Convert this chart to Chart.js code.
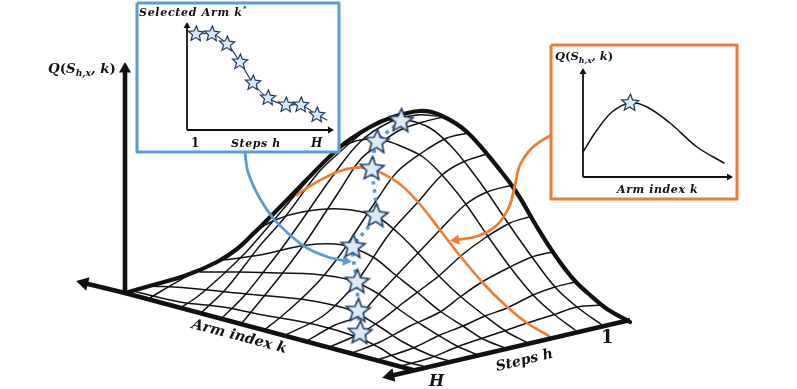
<!DOCTYPE html>
<html>
<head>
<meta charset="utf-8">
<style>html,body{margin:0;padding:0;background:#fff}canvas{display:block}</style>
<script src="https://cdn.jsdelivr.net/npm/chart.js"></script>
</head>
<body>
<canvas id="surface" width="797" height="389"></canvas>
<script>
// surface silhouette and base edges
const outline = [[125,293],[153,285],[187,275],[217,262],[237,249],[253,234],[287,200],[340,147],[370,127],[393,117],[420,111],[440,115],[467,132],[500,170],[517,193],[537,227],[557,258],[575,281],[590,295],[607,309],[630,322]];
const armAxis = [[413,370],[125,293],[84,283]];
const stepAxis = [[630,320],[390,376]];
const valueAxis = [[125,293],[125,70]];

// grid lines running from the left silhouette down to the steps edge
const armLines = [
  [[390,120],[407,120],[430,128],[450,145],[467,165],[487,192],[510,226],[532,257],[555,287],[577,307],[602,325]],
  [[340,147],[360,140],[383,140],[403,147],[423,157],[442,175],[465,203],[487,235],[510,267],[533,295],[555,315],[575,330]],
  [[252,233],[275,220],[302,212],[340,209],[375,216],[397,232],[418,253],[440,277],[460,296],[485,316],[507,332],[526,342]],
  [[223,260],[260,255],[307,245],[343,245],[373,257],[393,273],[417,292],[440,311],[463,326],[483,339],[505,348]],
  [[200,272],[237,272],[280,273],[313,274],[350,280],[377,293],[397,308],[425,327],[455,345],[478,355]],
  [[150,286],[187,288],[237,293],[280,297],[313,301],[350,310],[377,325],[403,342],[430,355],[453,362]],
  [[133,291],[180,302],[223,307],[263,315],[317,325],[357,337],[380,348],[400,360],[423,366]]
];
const crestLine = [[297,195],[310,186],[340,171],[367,168],[397,182],[418,202],[440,230],[461,257],[483,283],[505,305],[527,323],[549,336]];

// grid lines running from the arm edge up to the right silhouette
const stepLines = [
  [[150,298],[163,290],[187,276]],
  [[180,308],[197,297],[217,280],[233,265],[248,250],[268,227],[302,187],[335,150],[348,140]],
  [[202,312],[225,290],[245,265],[258,248],[285,217],[318,173],[342,150],[362,133]],
  [[222,318],[245,295],[265,270],[282,248],[302,220],[332,177],[360,142],[390,122],[417,115],[437,116]],
  [[242,323],[265,295],[285,270],[305,243],[325,213],[340,190],[360,160],[378,145],[400,130],[423,122],[443,117]],
  [[263,331],[282,316],[300,300],[320,280],[340,255],[360,225],[378,198],[397,172],[423,152],[447,138],[468,133]],
  [[283,336],[323,316],[352,288],[365,270],[390,233],[418,202],[442,175],[463,162],[487,154]],
  [[305,342],[335,325],[358,316],[378,295],[397,275],[418,253],[440,230],[465,205],[487,192],[513,185]],
  [[327,348],[357,335],[380,321],[403,303],[427,285],[440,275],[462,255],[485,238],[510,223],[529,217]],
  [[352,353],[380,342],[410,326],[440,312],[460,297],[482,282],[510,267],[532,257],[552,252]],
  [[377,360],[413,348],[440,335],[463,326],[485,316],[507,308],[533,295],[555,287],[575,282]],
  [[397,367],[430,358],[457,347],[483,338],[507,330],[527,323],[553,315],[577,307],[603,305]]
];

// selected arm per step, on the surface
const selectedStars = [[401,121],[377,142],[372,169],[376,216],[353,247],[357,282],[358,311],[360,333]];

// callout curves
const blueCallout = [[245,153],[248,172],[258,195],[273,218],[290,235],[307,248],[328,257],[346,261]];
const orangeCallout = [[551,135],[533,147],[520,165],[515,185],[509,207],[497,225],[478,236],[456,240]];

// inset frames
const blueBox = [[137,3],[339,3],[339,152],[137,152],[137,3]];
const orangeBox = [[551,45],[737,45],[737,199],[551,199],[551,45]];

// left inset: selected arm over steps
const insetStepAxisY = [[187,130],[187,28]];
const insetStepAxisX = [[187,130],[329,130]];
const insetArmLine = [[189,32],[196,34],[212,34],[227,44],[240,62],[253,83],[268,98],[286,105],[301,105],[317,115],[327,120]];
const insetArmStars = [[196,34],[212,34],[227,44],[240,62],[253,83],[268,98],[286,105],[301,105],[317,115]];

// right inset: value over arm index
const insetArmAxisY = [[583,177],[583,73]];
const insetArmAxisX = [[583,177],[728,177]];
const insetValueLine = [[583,152],[597,130],[612,112],[630,103],[647,107],[670,123],[697,147],[724,163]];
const insetValueStar = [[630,103]];

const BLACK = '#111111', BLUE = '#5b9bd5', ORANGE = '#ed7d31', NAVY = '#1f3a5f';

function pts(list) { return list.map(p => ({x: p[0], y: p[1]})); }

function curve(list, color, width, extra) {
  return Object.assign({data: pts(list), showLine: true, borderColor: color, borderWidth: width,
    tension: 0.35, pointRadius: 0, fill: false, borderCapStyle: 'round', borderJoinStyle: 'round', clip: false}, extra || {});
}

function straight(list, color, width, extra) {
  return curve(list, color, width, Object.assign({tension: 0, borderCapStyle: 'butt'}, extra || {}));
}

function head(x, y, rotation, radius, color) {
  return {data: [{x: x, y: y}], showLine: false, pointStyle: 'triangle', pointRadius: radius,
    pointRotation: rotation, pointBackgroundColor: color, pointBorderColor: color, pointBorderWidth: 0};
}

// chart.js has no filled five point star, so hand it a small canvas as the point style
function starImage(r, tilt) {
  const c = document.createElement('canvas');
  const s = Math.ceil(r * 2 + 4);
  c.width = s; c.height = s;
  const g = c.getContext('2d');
  g.beginPath();
  for (let i = 0; i < 10; i++) {
    const rad = i % 2 ? r * 0.45 : r;
    const a = -Math.PI / 2 + tilt + i * Math.PI / 5;
    g.lineTo(s / 2 + rad * Math.cos(a), s / 2 + rad * Math.sin(a));
  }
  g.closePath();
  g.fillStyle = '#dce9f7';
  g.strokeStyle = NAVY;
  g.lineWidth = r > 9 ? 1.6 : 1.2;
  g.lineJoin = 'miter';
  g.fill();
  g.stroke();
  return c;
}

function stars(list, r) {
  return {data: pts(list), showLine: false, pointStyle: starImage(r, 0.05), pointRadius: r};
}

const layers = [];
stepLines.forEach(l => layers.push(curve(l, BLACK, 1.5)));
armLines.forEach(l => layers.push(curve(l, BLACK, 1.5)));
layers.push(curve(crestLine, ORANGE, 2.6));
layers.push(curve(outline, BLACK, 4.2));
layers.push(straight(armAxis, BLACK, 4.4));
layers.push(head(84, 283, 284, 8, BLACK));
layers.push(straight(stepAxis, BLACK, 4.4));
layers.push(head(390, 376, 257, 8, BLACK));
layers.push(straight(valueAxis, BLACK, 4.6));
layers.push(head(125, 69, 0, 7, BLACK));
layers.push(curve(blueCallout, BLUE, 2.8));
layers.push(head(346, 261, 98, 6, BLUE));
layers.push(curve(orangeCallout, ORANGE, 2.8));
layers.push(head(456, 240, 263, 6, ORANGE));
layers.push(curve(selectedStars, BLUE, 3.6, {borderDash: [3.5, 4.5], borderCapStyle: 'butt', tension: 0.2}));
layers.push(stars(selectedStars, 12.5));
layers.push(straight(blueBox, BLUE, 3, {fill: 'shape', backgroundColor: '#ffffff'}));
layers.push(straight(orangeBox, ORANGE, 3, {fill: 'shape', backgroundColor: '#ffffff'}));
layers.push(straight(insetStepAxisY, BLACK, 1.8));
layers.push(head(187, 26, 0, 4, BLACK));
layers.push(straight(insetStepAxisX, BLACK, 1.8));
layers.push(head(330, 130, 90, 4, BLACK));
layers.push(curve(insetArmLine, NAVY, 1.1));
layers.push(stars(insetArmStars, 8));
layers.push(straight(insetArmAxisY, BLACK, 1.8));
layers.push(head(583, 72, 0, 4, BLACK));
layers.push(straight(insetArmAxisX, BLACK, 1.8));
layers.push(head(729, 177, 90, 4, BLACK));
layers.push(curve(insetValueLine, BLACK, 1.5));
layers.push(stars(insetValueStar, 9));
layers.forEach((d, i) => { d.order = -i; });

const SERIF = '"DejaVu Serif"';

function label(ctx, text, x, y, size, angle, spacing, upright) {
  ctx.save();
  ctx.translate(x, y);
  ctx.rotate((angle || 0) * Math.PI / 180);
  ctx.font = (upright ? 'bold ' : 'italic bold ') + size + 'px ' + SERIF;
  ctx.letterSpacing = (spacing || 0) + 'px';
  ctx.fillStyle = '#111';
  ctx.textBaseline = 'alphabetic';
  ctx.fillText(text, 0, 0);
  ctx.restore();
}

function valueLabel(ctx, x, y, size, spacing) {
  const runs = [['Q', 0, 1], ['(', 0, 0], ['S', 0, 1], ['h,x', 1, 1], [',', 0, 1], [' k', 0, 1], [')', 0, 0]];
  ctx.save();
  let cx = x;
  runs.forEach(r => {
    const s = r[1] ? size * 0.68 : size;
    ctx.font = (r[2] ? 'italic bold ' : 'bold ') + s + 'px ' + SERIF;
    ctx.letterSpacing = spacing + 'px';
    ctx.fillStyle = '#111';
    ctx.fillText(r[0], cx, y + (r[1] ? size * 0.22 : 0));
    cx += ctx.measureText(r[0]).width;
  });
  ctx.restore();
}

const textPlugin = {
  id: 'diagramText',
  afterDatasetsDraw(chart) {
    const ctx = chart.ctx;
    valueLabel(ctx, 48, 73, 13.4, 0);
    label(ctx, 'Arm index k', 191, 328, 14.4, 14.8, 0);
    label(ctx, 'Steps h', 497, 371, 14, -13.5, 0);
    label(ctx, 'H', 429, 386, 16);
    label(ctx, '1', 601, 343, 18, 0, 0, true);
    label(ctx, 'Selected Arm k', 139, 16, 11, 0, 0.7);
    label(ctx, '*', 243, 11, 7);
    label(ctx, '1', 191, 147, 12, 0, 0, true);
    label(ctx, 'Steps h', 231, 147, 11, 0, 0.6);
    label(ctx, 'H', 311, 147, 12);
    valueLabel(ctx, 555, 60, 11.5, 0);
    label(ctx, 'Arm index k', 617, 193, 11, 0, 0.6);
  }
};

new Chart(document.getElementById('surface'), {
  type: 'scatter',
  data: {datasets: layers},
  plugins: [textPlugin],
  options: {
    responsive: false,
    animation: false,
    layout: {padding: 0, autoPadding: false},
    plugins: {legend: {display: false}, tooltip: {enabled: false}},
    scales: {
      x: {type: 'linear', min: 0, max: 797, display: false},
      y: {type: 'linear', min: 0, max: 389, reverse: true, display: false}
    }
  }
});
</script>
</body>
</html>
